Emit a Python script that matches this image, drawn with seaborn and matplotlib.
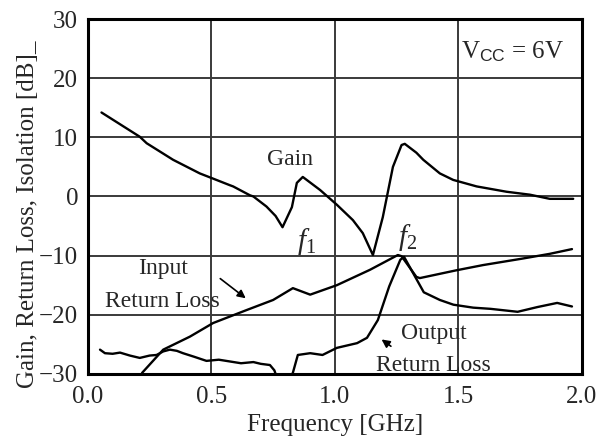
import matplotlib
matplotlib.use("Agg")
import matplotlib.pyplot as plt
import numpy as np
import pandas as pd
import seaborn as sns

# Measured amplifier response vs. frequency (GHz, dB)
gain_freq = [0.055, 0.21, 0.238, 0.345, 0.453, 0.502, 0.575, 0.588, 0.656, 0.67, 0.723,
             0.76, 0.788, 0.826, 0.846, 0.87, 0.94, 1.008, 1.073, 1.113, 1.154,
             1.194, 1.235, 1.27, 1.283, 1.33, 1.358, 1.425, 1.479, 1.574, 1.695,
             1.79, 1.87, 1.965]
gain_db = [14.2, 10.1, 9.0, 6.2, 3.9, 3.1, 1.9, 1.7, 0.2, 0.0, -1.7,
           -3.3, -5.2, -1.8, 2.3, 3.3, 1.1, -1.4, -4.0, -6.2, -9.9,
           -3.5, 5.0, 8.7, 8.9, 7.4, 6.2, 3.9, 2.8, 1.7, 0.8,
           0.3, -0.4, -0.4]

in_rl_freq = [0.2, 0.22, 0.305, 0.413, 0.507, 0.643, 0.75, 0.83, 0.9, 1.008,
              1.142, 1.255, 1.27, 1.33, 1.344, 1.49, 1.6, 1.76, 1.87, 1.96]
in_rl_db = [-31.5, -29.8, -25.9, -23.7, -21.4, -19.2, -17.5, -15.5, -16.6, -15.0,
            -12.4, -9.9, -10.1, -13.6, -13.8, -12.5, -11.6, -10.5, -9.7, -8.9]

out_rl_freq = [0.815, 0.83, 0.85, 0.9, 0.95, 1.008, 1.09, 1.13, 1.174, 1.22,
               1.265, 1.28, 1.36, 1.425, 1.48, 1.56, 1.63, 1.74, 1.82, 1.9, 1.96]
out_rl_db = [-31.0, -29.8, -26.8, -26.5, -26.8, -25.6, -24.8, -23.9, -20.9, -15.2,
             -10.7, -10.2, -16.2, -17.5, -18.3, -18.8, -19.0, -19.5, -18.7, -18.0, -18.6]

iso_freq = [0.049, 0.069, 0.1, 0.13, 0.17, 0.21, 0.25, 0.278, 0.305, 0.332, 0.36,
            0.385, 0.43, 0.48, 0.53, 0.575, 0.62, 0.67, 0.7, 0.737, 0.755, 0.764]
iso_db = [-25.9, -26.5, -26.6, -26.4, -26.9, -27.3, -26.9, -26.8, -26.2, -25.9, -26.1,
          -26.5, -27.1, -27.8, -27.6, -27.9, -28.2, -28.0, -28.3, -28.5, -29.4, -30.5]

x_ticks = [0.0, 0.5, 1.0, 1.5, 2.0]
y_ticks = [-30, -20, -10, 0, 10, 20, 30]

sns.set_theme(style="white")
plt.rcParams["font.family"] = ["Liberation Serif", "DejaVu Serif"]
plt.rcParams["mathtext.fontset"] = "custom"
plt.rcParams["mathtext.rm"] = "Liberation Serif"
plt.rcParams["mathtext.it"] = "Liberation Serif:italic"
plt.rcParams["mathtext.bf"] = "Liberation Serif:bold"
plt.rcParams["mathtext.sf"] = "Liberation Sans"

fig = plt.figure(figsize=(5.98, 4.43), dpi=100)
ax = fig.add_axes([0.147, 0.156, 0.826, 0.801])

series = [
    ("Gain", gain_freq, gain_db),
    ("Input Return Loss", in_rl_freq, in_rl_db),
    ("Output Return Loss", out_rl_freq, out_rl_db),
    ("Isolation", iso_freq, iso_db),
]
for name, fx, fy in series:
    df = pd.DataFrame({"freq": fx, "db": fy})
    sns.lineplot(data=df, x="freq", y="db", ax=ax, color="black", lw=1.7,
                 sort=False, estimator=None, zorder=3)

ax.set_xlim(0, 2.0)
ax.set_ylim(-30, 30)
ax.set_xticks(x_ticks)
ax.set_xticklabels([f"{v:.1f}" for v in x_ticks])
ax.set_yticks(y_ticks)
ax.set_yticklabels([str(v).replace("-", "\u2212") for v in y_ticks])
ax.tick_params(axis="x", length=0, pad=9, labelsize=18)
ax.tick_params(axis="y", length=0, pad=7, labelsize=18)

for gx in x_ticks[1:-1]:
    ax.axvline(gx, color="#3a3a3a", lw=1.4, zorder=1)
for gy in y_ticks[1:-1]:
    ax.axhline(gy, color="#3a3a3a", lw=1.4, zorder=1)

for s in ax.spines.values():
    s.set_color("black")
    s.set_linewidth(2.2)
    s.set_visible(True)

ax.set_xlabel("Frequency [GHz]", fontsize=18)
ax.xaxis.set_label_coords(0.5, -0.112)
ax.set_ylabel("Gain, Return Loss, Isolation [dB]_", fontsize=18)
ax.yaxis.set_label_coords(-0.1, 0.45)

ax.text(0.82, 6.3, "Gain", fontsize=17, ha="center", va="center", zorder=4)
ax.text(0.885, -7.6, r"$f_{\rm 1}$", fontsize=21, ha="center", va="center", zorder=4)
ax.text(1.295, -7.0, r"$f_{\rm 2}$", fontsize=21, ha="center", va="center", zorder=4)
ax.text(1.72, 24.4, r"V$_{\sf CC}$ = 6V", fontsize=18, ha="center", va="center", zorder=4)

ax.text(0.305, -12.1, "Input", fontsize=17, ha="center", va="center", zorder=4)
ax.text(0.30, -17.7, "Return Loss", fontsize=17, ha="center", va="center", zorder=4)
ax.annotate("", xy=(0.648, -17.5), xytext=(0.527, -13.6),
            arrowprops=dict(arrowstyle="-|>", color="black", lw=1.2,
                            mutation_scale=12), zorder=4)

ax.text(1.40, -23.1, "Output", fontsize=17, ha="center", va="center", zorder=4)
ax.text(1.40, -28.5, "Return Loss", fontsize=17, ha="center", va="center", zorder=4)
ax.annotate("", xy=(1.18, -23.9), xytext=(1.236, -25.6),
            arrowprops=dict(arrowstyle="-|>", color="black", lw=1.2,
                            mutation_scale=12), zorder=4)

fig.savefig("out.png", dpi=100, facecolor="white")
